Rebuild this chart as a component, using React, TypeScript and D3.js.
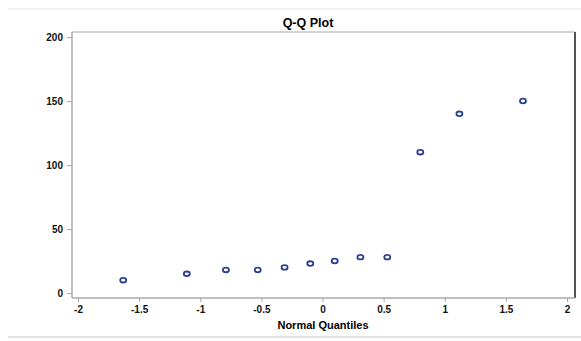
import { useEffect, useRef } from 'react';
import * as d3 from 'd3';

const quantiles = [-1.63, -1.11, -0.79, -0.53, -0.31, -0.1, 0.1, 0.31, 0.53, 0.8, 1.12, 1.64];
const values = [10, 15, 18, 18, 20, 23, 25, 28, 28, 110, 140, 150];
const xTicks = [-2, -1.5, -1, -0.5, 0, 0.5, 1, 1.5, 2];
const yTicks = [0, 50, 100, 150, 200];

export default function App() {
  const svgRef = useRef<SVGSVGElement>(null);

  useEffect(() => {
    const svg = d3.select(svgRef.current);
    svg.selectAll('*').remove();

    const W = 581;
    const H = 341;
    const frame = { left: 72, right: 575, top: 32, bottom: 298 };

    const x = d3.scaleLinear().domain([-2, 2]).range([78, 567]);
    const y = d3.scaleLinear().domain([0, 200]).range([293, 37]);

    svg.attr('width', W).attr('height', H);
    const font = 'Arial, "Liberation Sans", sans-serif';

    // thin separators top and bottom
    svg.append('line').attr('x1', 8).attr('x2', 581).attr('y1', 9).attr('y2', 9)
      .attr('stroke', '#e4e4e4');
    svg.append('line').attr('x1', 8).attr('x2', 581).attr('y1', 337).attr('y2', 337)
      .attr('stroke', '#e4e4e4').attr('stroke-width', 2);

    svg.append('text')
      .attr('x', 308).attr('y', 27)
      .attr('text-anchor', 'middle')
      .attr('font-family', font).attr('font-weight', 'bold').attr('font-size', 12.5)
      .text('Q-Q Plot');

    // frame
    svg.append('line').attr('x1', frame.left).attr('x2', frame.right)
      .attr('y1', frame.top).attr('y2', frame.top).attr('stroke', '#aaa').attr('stroke-width', 1.2);
    svg.append('line').attr('x1', frame.right).attr('x2', frame.right)
      .attr('y1', frame.top).attr('y2', frame.bottom).attr('stroke', '#555').attr('stroke-width', 2);

    const xAxis = svg.append('g')
      .attr('transform', `translate(0,${frame.bottom})`)
      .call(d3.axisBottom(x).tickValues(xTicks).tickSize(4).tickPadding(4).tickFormat((d) => String(d)));
    xAxis.select('.domain').attr('d', `M${frame.left},0H${frame.right}`).attr('stroke', '#aaa').attr('stroke-width', 1.5);
    xAxis.selectAll('line').attr('stroke', '#aaa');
    xAxis.selectAll('text').attr('font-family', font).attr('font-weight', 'bold').attr('font-size', 10).attr('fill', '#111');

    const yAxis = svg.append('g')
      .attr('transform', `translate(${frame.left},0)`)
      .call(d3.axisLeft(y).tickValues(yTicks).tickSize(5).tickPadding(4));
    yAxis.select('.domain').attr('d', `M0,${frame.top}V${frame.bottom}`).attr('stroke', '#aaa').attr('stroke-width', 1.5);
    yAxis.selectAll('line').attr('stroke', '#aaa');
    yAxis.selectAll('text').attr('font-family', font).attr('font-weight', 'bold').attr('font-size', 10).attr('fill', '#111');

    svg.append('text')
      .attr('x', 323).attr('y', 329)
      .attr('text-anchor', 'middle')
      .attr('font-family', font).attr('font-weight', 'bold').attr('font-size', 11)
      .text('Normal Quantiles');

    svg.selectAll('.pt')
      .data(quantiles.map((q, i) => [q, values[i]]))
      .enter()
      .append('ellipse')
      .attr('class', 'pt')
      .attr('cx', (d) => x(d[0]))
      .attr('cy', (d) => y(d[1]))
      .attr('rx', 3)
      .attr('ry', 2.3)
      .attr('fill', 'none')
      .attr('stroke', '#2b3f93')
      .attr('stroke-width', 1.8);
  }, []);

  return <svg ref={svgRef} style={{ position: 'absolute', left: 0, top: 0 }}></svg>;
}
